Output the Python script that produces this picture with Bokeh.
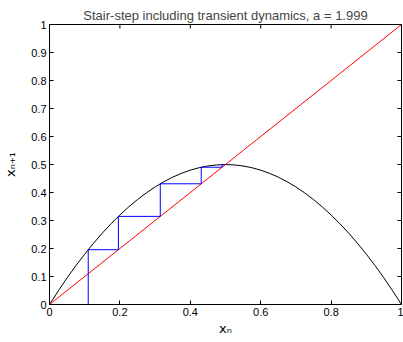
from math import pi
from bokeh.plotting import figure
from bokeh.models import Range1d, FixedTicker
from bokeh.embed import file_html
from bokeh.resources import INLINE

# ---- data ----
title_text = "Stair-step including transient dynamics, a = 1.999"
x_label = "xₙ"
y_label = "xₙ₊₁"
ticks = [0, 0.1, 0.2, 0.3, 0.4, 0.5, 0.6, 0.7, 0.8, 0.9, 1]
y_tick_labels = ["0", "0.1", "0.2", "0.3", "0.4", "0.5", "0.6", "0.7", "0.8", "0.9", "1"]
x_ticks = [0, 0.2, 0.4, 0.6, 0.8, 1]
x_tick_labels = ["0", "0.2", "0.4", "0.6", "0.8", "1"]

map_x = [0, 0.025, 0.05, 0.075, 0.1, 0.125, 0.15, 0.175, 0.2, 0.225, 0.25, 0.275, 0.3,
         0.325, 0.35, 0.375, 0.4, 0.425, 0.45, 0.475, 0.5, 0.525, 0.55, 0.575, 0.6,
         0.625, 0.65, 0.675, 0.7, 0.725, 0.75, 0.775, 0.8, 0.825, 0.85, 0.875, 0.9,
         0.925, 0.95, 0.975, 1]
map_y = [0, 0.0487, 0.0950, 0.1387, 0.1799, 0.2186, 0.2549, 0.2886, 0.3198, 0.3486,
         0.3748, 0.3986, 0.4198, 0.4385, 0.4548, 0.4685, 0.4798, 0.4885, 0.4948, 0.4985,
         0.4998, 0.4985, 0.4948, 0.4885, 0.4798, 0.4685, 0.4548, 0.4385, 0.4198, 0.3986,
         0.3748, 0.3486, 0.3198, 0.2886, 0.2549, 0.2186, 0.1799, 0.1387, 0.0950, 0.0487, 0]

diag_x = [0, 1]
diag_y = [0, 1]

iterates = [0.11, 0.1957, 0.3147, 0.4311, 0.4903, 0.4996, 0.4997]

# cobweb path built from iterates
cx = [iterates[0]]
cy = [0]
for i in range(len(iterates) - 1):
    cx += [iterates[i], iterates[i + 1]]
    cy += [iterates[i + 1], iterates[i + 1]]

W, H = 403, 342
p = figure(width=W, height=H, output_backend="svg", toolbar_location=None,
           x_range=Range1d(0, 1), y_range=Range1d(0, 1),
           min_border_left=48, min_border_right=2, min_border_top=24, min_border_bottom=38)
p.title.text = title_text
p.title.text_font = "Liberation Sans"
p.title.text_font_size = "13px"
p.title.text_font_style = "normal"
p.title.align = "center"
p.title.standoff = 4

p.grid.visible = False
p.outline_line_color = "black"
p.outline_line_width = 1
p.background_fill_color = "white"
p.border_fill_color = "white"

for ax, tk, lbl in ((p.xaxis[0], x_ticks, x_tick_labels), (p.yaxis[0], ticks, y_tick_labels)):
    ax.ticker = FixedTicker(ticks=tk)
    ax.major_label_overrides = {t: l for t, l in zip(tk, lbl)}
    ax.major_tick_in = 4
    ax.major_tick_out = 0
    ax.minor_tick_line_color = None
    ax.axis_line_color = "black"
    ax.major_tick_line_color = "black"
    ax.major_label_text_font = "Liberation Sans"
    ax.major_label_text_font_size = "11px"
    ax.major_label_text_color = "black"
    ax.major_label_standoff = 3
    ax.axis_label_text_font = "DejaVu Sans"
    ax.axis_label_text_font_size = "13px"
    ax.axis_label_text_font_style = "normal"
    ax.axis_label_text_color = "black"

p.xaxis.axis_label = x_label
p.yaxis.axis_label = y_label
p.xaxis.axis_label_standoff = 2
p.yaxis.axis_label_standoff = 10

# inward ticks on the top and right edges of the box
p.scatter(x_ticks, [1] * len(x_ticks), marker="dash", size=8, angle=pi / 2,
          line_color="black", line_width=1)
p.scatter([1] * len(ticks), ticks, marker="dash", size=8,
          line_color="black", line_width=1)

p.line(map_x, map_y, line_color="black", line_width=1)
p.line(diag_x, diag_y, line_color="#ff0000", line_width=1)
p.line(cx, cy, line_color="#0000ff", line_width=1)

open("out.html", "w").write(file_html(p, INLINE))
